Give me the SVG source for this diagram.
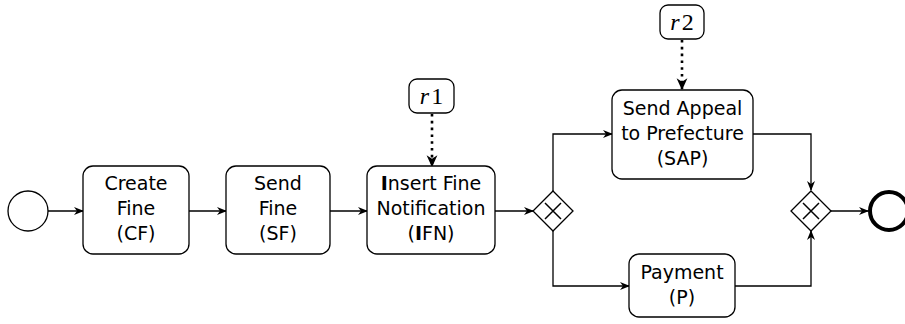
<svg xmlns="http://www.w3.org/2000/svg" width="905" height="324" viewBox="0 0 905 324">
<defs>
<marker id="arr" viewBox="0 0 10 10" refX="9" refY="5" markerWidth="10" markerHeight="10" markerUnits="userSpaceOnUse" orient="auto">
<path d="M0,1 L10,5 L0,9 L3,5 Z" fill="#000"/>
</marker>
<marker id="arrb" viewBox="0 0 10 10" refX="9" refY="5" markerWidth="12" markerHeight="12" markerUnits="userSpaceOnUse" orient="auto">
<path d="M0,0.5 L10,5 L0,9.5 L3,5 Z" fill="#000"/>
</marker>
<style>
.task{fill:#fff;stroke:#000;stroke-width:1.3}
.res{fill:#fff;stroke:#000;stroke-width:1.3}
.lbl{font-family:"DejaVu Sans","Liberation Sans",sans-serif;font-size:19px;text-anchor:middle;fill:#000}
.math{font-family:"Liberation Serif",serif;font-size:24px;letter-spacing:2px;text-anchor:middle;fill:#000}
.flow{fill:none;stroke:#000;stroke-width:1.3;marker-end:url(#arr)}
.dot{fill:none;stroke:#000;stroke-width:2.6;stroke-dasharray:2.6 4.2;marker-end:url(#arrb)}
.gw{fill:#fff;stroke:#000;stroke-width:1.3}
</style>
</defs>
<rect width="905" height="324" fill="#fff"/>
<g id="connectors">
<path class="flow" d="M48,211 H83"/>
<path class="flow" d="M189,211 H226"/>
<path class="flow" d="M330,211 H367"/>
<path class="flow" d="M495,211 H533"/>
<path class="flow" d="M553,191 V134 H612"/>
<path class="flow" d="M553,231 V286 H629"/>
<path class="flow" d="M753,134 H811 V190"/>
<path class="flow" d="M735,286 H811 V231"/>
<path class="flow" d="M831,211 H868"/>
<path class="dot" d="M432,114 V166"/>
<path class="dot" d="M682,40 V89"/>
</g>
<g id="start"><circle cx="28" cy="211" r="20" fill="#fff" stroke="#000" stroke-width="1.3"/></g>
<g id="CF"><rect class="task" x="83" y="166" width="106" height="88" rx="10"/>
<text class="lbl" x="136" y="190">Create</text><text class="lbl" x="136" y="215">Fine</text><text class="lbl" x="136" y="240">(CF)</text></g>
<g id="SF"><rect class="task" x="226" y="166" width="104" height="88" rx="10"/>
<text class="lbl" x="278" y="190">Send</text><text class="lbl" x="278" y="215">Fine</text><text class="lbl" x="278" y="240">(SF)</text></g>
<g id="IFN"><rect class="task" x="367" y="166" width="128" height="88" rx="10"/>
<text class="lbl" x="431" y="190"><tspan font-weight="bold">I</tspan>nsert Fine</text><text class="lbl" x="431" y="215">Notification</text><text class="lbl" x="431" y="240">(<tspan font-weight="bold">I</tspan>FN)</text></g>
<g id="r1"><rect class="res" x="409" y="79" width="45" height="34" rx="8"/>
<text class="math" x="432.5" y="104"><tspan font-style="italic">r</tspan>1</text></g>
<g id="G1"><path class="gw" d="M553,191 L573,211 L553,231 L533,211 Z"/>
<path d="M545,203 L561,219 M561,203 L545,219" stroke="#000" stroke-width="1.5"/></g>
<g id="SAP"><rect class="task" x="612" y="90" width="141" height="89" rx="10"/>
<text class="lbl" x="682.5" y="115">Send Appeal</text><text class="lbl" x="682.5" y="140">to Prefecture</text><text class="lbl" x="682.5" y="165">(SAP)</text></g>
<g id="r2"><rect class="res" x="660" y="5" width="44" height="34" rx="8"/>
<text class="math" x="683" y="30"><tspan font-style="italic">r</tspan>2</text></g>
<g id="P"><rect class="task" x="629" y="254" width="106" height="63" rx="10"/>
<text class="lbl" x="682" y="279">Payment</text><text class="lbl" x="682" y="304">(P)</text></g>
<g id="G2"><path class="gw" d="M811,191 L831,211 L811,231 L791,211 Z"/>
<path d="M803,203 L819,219 M819,203 L803,219" stroke="#000" stroke-width="1.5"/></g>
<g id="end"><circle cx="889" cy="211" r="19" fill="#fff" stroke="#000" stroke-width="4"/></g>
</svg>
